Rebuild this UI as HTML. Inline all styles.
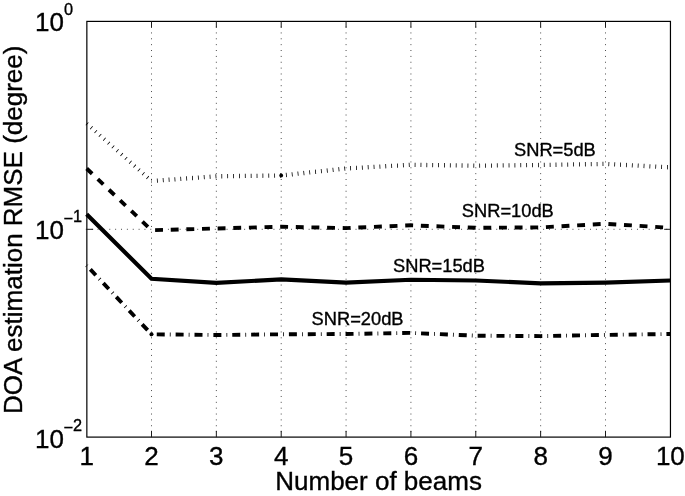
<!DOCTYPE html>
<html><head><meta charset="utf-8"><title>DOA estimation RMSE vs number of beams</title>
<style>
html,body{margin:0;padding:0;background:#fff;}
body{width:685px;height:496px;overflow:hidden;}
svg{display:block;}
text{font-family:"Liberation Sans",Arial,Helvetica,sans-serif;fill:#000;stroke:#000;stroke-width:0.35px;}
.tk{font-size:26px;}
.ex{font-size:16.3px;}
.lb{font-size:26px;}
.an{font-size:18.3px;}
.grid line{stroke:#3a3a3a;stroke-width:0.95;stroke-dasharray:0.95 4.913;}
.ax{stroke:#000;stroke-width:1.2;fill:none;}
.tick line{stroke:#1a1a1a;stroke-width:1;}
.cv{fill:none;stroke:#000;stroke-linejoin:miter;}
</style></head>
<body>
<svg width="685" height="496" viewBox="0 0 685 496">
<rect width="685" height="496" fill="#fff"/>
<g class="grid">
<line x1="151.50" y1="26.6" x2="151.50" y2="437.1"/>
<line x1="216.35" y1="26.6" x2="216.35" y2="437.1"/>
<line x1="281.21" y1="26.6" x2="281.21" y2="437.1"/>
<line x1="346.07" y1="26.6" x2="346.07" y2="437.1"/>
<line x1="410.92" y1="26.6" x2="410.92" y2="437.1"/>
<line x1="475.78" y1="26.6" x2="475.78" y2="437.1"/>
<line x1="540.64" y1="26.6" x2="540.64" y2="437.1"/>
<line x1="605.50" y1="26.6" x2="605.50" y2="437.1"/>
<line x1="85.85" y1="229.3" x2="670.5" y2="229.3"/>
</g>
<g class="ax">
<rect x="86.85" y="21.4" width="583.6" height="415.7"/>
</g>
<g class="tick">
<line x1="151.50" y1="21.4" x2="151.50" y2="27.7"/><line x1="151.50" y1="437.1" x2="151.50" y2="430.8"/>
<line x1="216.35" y1="21.4" x2="216.35" y2="27.7"/><line x1="216.35" y1="437.1" x2="216.35" y2="430.8"/>
<line x1="281.21" y1="21.4" x2="281.21" y2="27.7"/><line x1="281.21" y1="437.1" x2="281.21" y2="430.8"/>
<line x1="346.07" y1="21.4" x2="346.07" y2="27.7"/><line x1="346.07" y1="437.1" x2="346.07" y2="430.8"/>
<line x1="410.92" y1="21.4" x2="410.92" y2="27.7"/><line x1="410.92" y1="437.1" x2="410.92" y2="430.8"/>
<line x1="475.78" y1="21.4" x2="475.78" y2="27.7"/><line x1="475.78" y1="437.1" x2="475.78" y2="430.8"/>
<line x1="540.64" y1="21.4" x2="540.64" y2="27.7"/><line x1="540.64" y1="437.1" x2="540.64" y2="430.8"/>
<line x1="605.50" y1="21.4" x2="605.50" y2="27.7"/><line x1="605.50" y1="437.1" x2="605.50" y2="430.8"/>
<line x1="86.85" y1="229.3" x2="93.15" y2="229.3"/><line x1="670.5" y1="229.3" x2="664.2" y2="229.3"/>
</g>
<polyline class="cv" stroke="#222" stroke-width="3.8" stroke-dasharray="0.8 4.978" stroke-dashoffset="-0.2" points="86.64,123.5 151.50,181.0"/>
<polyline class="cv" stroke="#222" stroke-width="4.3" stroke-dasharray="0.8 5.072" stroke-dashoffset="0.4" points="151.50,181.0 216.35,176.3 281.21,175.5 346.07,168.5 410.92,164.8 475.78,165.7 540.64,165.0 605.50,163.9 670.35,167.4"/>
<circle cx="281.2" cy="175.5" r="1.9" fill="#000"/>
<polyline class="cv" stroke-width="3.9" stroke-dasharray="7.6 7.8" points="86.64,168.5 151.50,230.2"/>
<polyline class="cv" stroke-width="3.9" stroke-dasharray="7.9 7.74" stroke-dashoffset="12.04" points="151.50,230.2 216.35,228.5 281.21,226.7 346.07,228.1 410.92,225.3 475.78,227.8 540.64,227.4 605.50,223.8 670.35,227.8"/>
<polyline class="cv" stroke-width="4.15" points="86.64,214.3 151.50,278.7 216.35,282.9 281.21,279.4 346.07,282.6 410.92,279.8 475.78,280.5 540.64,283.3 605.50,282.6 670.35,280.5"/>
<polyline class="cv" stroke-width="3.9" stroke-dasharray="8 5.08 0.8 5" stroke-dashoffset="13.48" points="86.64,265.5 151.50,334.3 216.35,335.0 281.21,334.3 346.07,334.0 410.92,332.9 475.78,335.7 540.64,336.1 605.50,334.9 670.35,334.0"/>
<circle cx="151.5" cy="334.3" r="2" fill="#000"/>
<g class="tk">
<text x="86.64" y="465.4" text-anchor="middle">1</text><text x="151.50" y="465.4" text-anchor="middle">2</text><text x="216.35" y="465.4" text-anchor="middle">3</text><text x="281.21" y="465.4" text-anchor="middle">4</text><text x="346.07" y="465.4" text-anchor="middle">5</text><text x="410.92" y="465.4" text-anchor="middle">6</text><text x="475.78" y="465.4" text-anchor="middle">7</text><text x="540.64" y="465.4" text-anchor="middle">8</text><text x="605.50" y="465.4" text-anchor="middle">9</text><text x="670.35" y="465.4" text-anchor="middle">10</text>
<text x="35" y="31.2">10</text>
<text x="35" y="238.9">10</text>
<text x="35" y="447.5">10</text>
</g>
<g class="ex">
<text x="64" y="14.9">0</text>
<text x="63.5" y="223.7">−<tspan dy="-1.6">1</tspan></text>
<text x="63.5" y="432.6">−<tspan dy="-1.7">2</tspan></text>
</g>
<text class="lb" x="378.6" y="490.3" text-anchor="middle">Number of beams</text>
<text class="lb" transform="translate(22,229.8) rotate(-90)" text-anchor="middle">DOA estimation RMSE (degree)</text>
<g class="an">
<text x="514" y="156.3">SNR=5dB</text>
<text x="461.8" y="216.5">SNR=10dB</text>
<text x="393" y="271.8">SNR=15dB</text>
<text x="311.6" y="325.4">SNR=20dB</text>
</g>
</svg>
</body></html>
